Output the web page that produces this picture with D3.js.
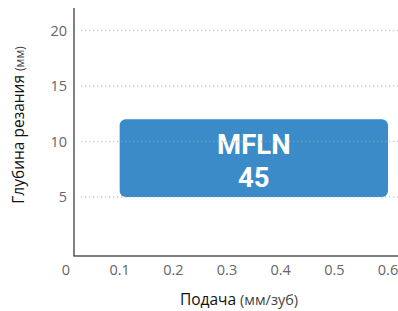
<!DOCTYPE html>
<html>
<head>
<meta charset="utf-8">
<script src="https://cdn.jsdelivr.net/npm/d3@7"></script>
<style>
  body { margin: 0; background: #fff; }
  text { font-family: "Open Sans", sans-serif; }
</style>
</head>
<body>
<div id="chart"></div>
<script>
const width = 398, height = 311;

// data
const xTicks = [0, 0.1, 0.2, 0.3, 0.4, 0.5, 0.6];
const yTicks = [5, 10, 15, 20];
const boxNames = ["MFLN 45"];
const boxFeed = [[0.1, 0.6]];   // feed range (mm/tooth)
const boxDepth = [[5, 12]];     // depth range (mm)

const x = d3.scaleLinear().domain([0, 0.6]).range([66, 388]);
const y = d3.scaleLinear().domain([0, 20]).range([252.5, 30.5]);

const svg = d3.select("#chart").append("svg")
    .attr("width", width)
    .attr("height", height);

// boxes
const box = svg.selectAll("g.box")
    .data(boxNames)
    .enter().append("g")
    .attr("class", "box");

box.append("rect")
    .attr("x", (d, i) => x(boxFeed[i][0]))
    .attr("y", (d, i) => y(boxDepth[i][1]))
    .attr("width", (d, i) => x(boxFeed[i][1]) - x(boxFeed[i][0]))
    .attr("height", (d, i) => y(boxDepth[i][0]) - y(boxDepth[i][1]))
    .attr("rx", 6)
    .attr("fill", "#3b8bc8");

// grid lines (dotted, drawn on top, faint)
svg.selectAll("line.grid")
    .data(yTicks)
    .enter().append("line")
    .attr("class", "grid")
    .attr("x1", 81).attr("x2", 398)
    .attr("y1", d => y(d)).attr("y2", d => y(d))
    .attr("stroke", "#aaa")
    .attr("stroke-opacity", 0.6)
    .attr("stroke-width", 1.3)
    .attr("stroke-dasharray", "1.3,2.7");

const cx = (d, i) => (x(boxFeed[i][0]) + x(boxFeed[i][1])) / 2;

// box label, two lines (Roboto has a tighter line box)
box.append("text")
    .attr("x", cx)
    .attr("y", (d, i) => y(boxDepth[i][1]) + 35)
    .attr("text-anchor", "middle")
    .attr("fill", "#fff")
    .style("font-family", "Roboto, sans-serif")
    .style("font-weight", "bold")
    .style("font-size", "27.5px")
    .text(d => d.split(" ")[0]);

box.append("text")
    .attr("x", cx)
    .attr("y", (d, i) => y(boxDepth[i][1]) + 68)
    .attr("text-anchor", "middle")
    .attr("fill", "#fff")
    .style("font-family", "Roboto, sans-serif")
    .style("font-weight", "bold")
    .style("font-size", "27.5px")
    .text(d => d.split(" ")[1]);

// axes lines
svg.append("line")
    .attr("x1", 74).attr("x2", 74)
    .attr("y1", 8).attr("y2", 256)
    .attr("stroke", "#555").attr("stroke-width", 1.5);
svg.append("line")
    .attr("x1", 73.3).attr("x2", 398)
    .attr("y1", 256).attr("y2", 256)
    .attr("stroke", "#555").attr("stroke-width", 1.5);

// tick labels
svg.selectAll("text.ytick")
    .data(yTicks)
    .enter().append("text")
    .attr("class", "ytick")
    .attr("x", 67)
    .attr("y", d => y(d))
    .attr("dy", "0.36em")
    .attr("text-anchor", "end")
    .attr("font-size", 14.5)
    .attr("fill", "#666")
    .text(d => d);

svg.selectAll("text.xtick")
    .data(xTicks)
    .enter().append("text")
    .attr("class", "xtick")
    .attr("x", d => x(d))
    .attr("y", 270)
    .attr("dy", "0.36em")
    .attr("text-anchor", "middle")
    .attr("font-size", 14.5)
    .attr("fill", "#666")
    .text(d => d);

// axis titles
const xt = svg.append("text")
    .attr("x", 239)
    .attr("y", 305)
    .attr("text-anchor", "middle")
    .attr("font-size", 15.5);
xt.append("tspan").attr("fill", "#111").text("Подача ");
xt.append("tspan").attr("fill", "#444").attr("font-size", 14.5).text("(мм/зуб)");

const yt = svg.append("text")
    .attr("transform", "translate(24,125) rotate(-90)")
    .attr("text-anchor", "middle")
    .attr("font-size", 15.5);
yt.append("tspan").attr("fill", "#111").text("Глубина резания ");
yt.append("tspan").attr("fill", "#444").attr("font-size", 12).text("(мм)");
</script>
</body>
</html>
